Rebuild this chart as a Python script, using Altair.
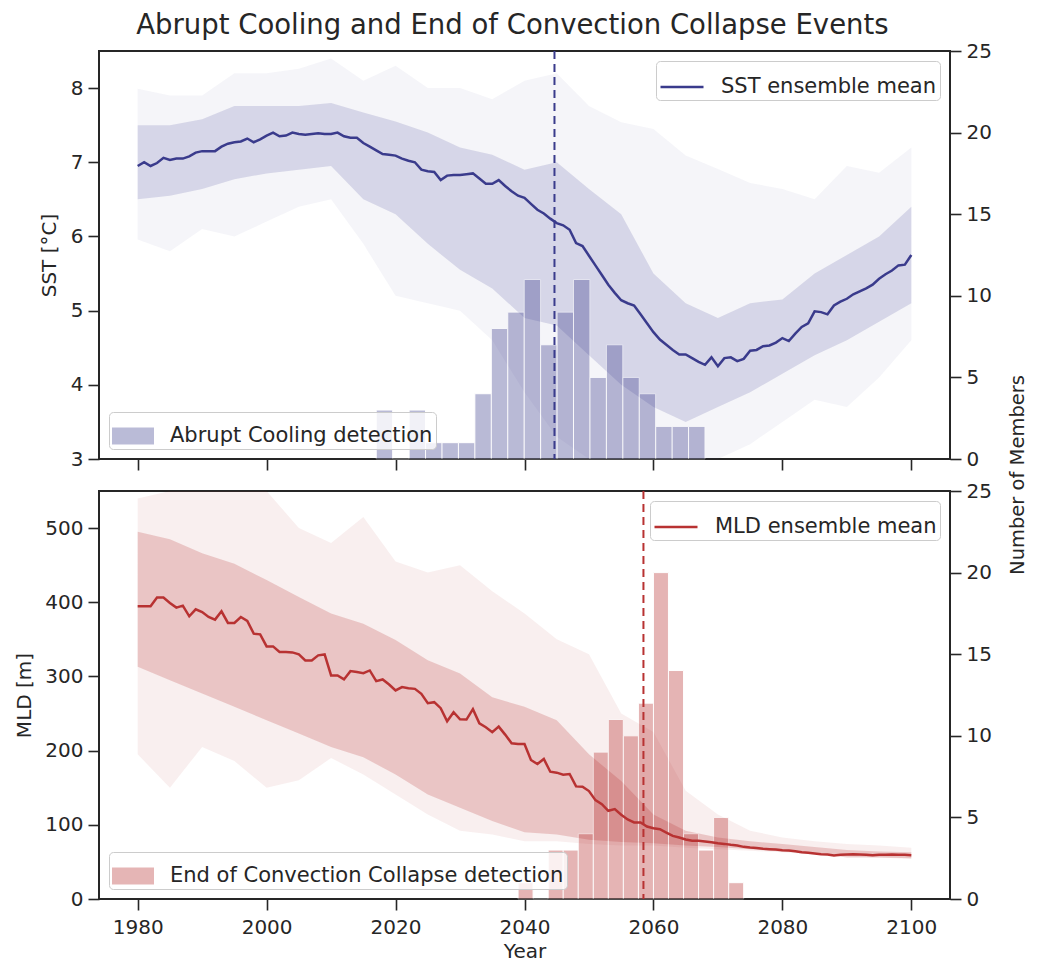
import altair as alt
import pandas as pd

# ---------------- data ----------------
years = list(range(1980, 2101))

sst_mean = [
    6.95, 7.00, 6.95, 6.99, 7.06, 7.03, 7.05, 7.05, 7.08, 7.13,
    7.15, 7.15, 7.15, 7.21, 7.25, 7.27, 7.28, 7.32, 7.27, 7.31,
    7.36, 7.40, 7.35, 7.36, 7.40, 7.38, 7.37, 7.38, 7.39, 7.38,
    7.38, 7.40, 7.35, 7.33, 7.33, 7.26, 7.21, 7.16, 7.11, 7.10,
    7.09, 7.05, 7.02, 7.00, 6.90, 6.88, 6.87, 6.76, 6.82, 6.83,
    6.83, 6.84, 6.85, 6.78, 6.71, 6.71, 6.76, 6.68, 6.61, 6.55,
    6.52, 6.44, 6.36, 6.31, 6.24, 6.18, 6.15, 6.09, 5.91, 5.87,
    5.74, 5.61, 5.48, 5.35, 5.24, 5.14, 5.10, 5.07, 4.95, 4.83,
    4.71, 4.61, 4.54, 4.47, 4.41, 4.41, 4.36, 4.31, 4.27, 4.37,
    4.25, 4.36, 4.37, 4.32, 4.35, 4.46, 4.47, 4.52, 4.53, 4.57,
    4.63, 4.59, 4.69, 4.78, 4.83, 4.99, 4.98, 4.95, 5.07, 5.12,
    5.16, 5.22, 5.26, 5.30, 5.35, 5.43, 5.49, 5.54, 5.61, 5.62,
    5.75,
]

mld_mean = [
    394.6, 394.6, 394.6, 406.3, 406.3, 399.1, 392.8, 395.5, 381.1, 390.5,
    386.9, 380.2, 376.6, 387.8, 372.1, 372.1, 380.2, 374.8, 357.7, 356.8,
    340.5, 340.5, 332.9, 332.9, 332.4, 329.7, 321.6, 321.6, 328.4, 329.7,
    301.4, 301.4, 296.0, 307.2, 305.9, 304.5, 308.1, 293.7, 296.0, 289.2,
    281.1, 285.6, 284.2, 283.3, 276.6, 264.0, 265.3, 257.2, 239.6, 251.8,
    242.3, 241.9, 255.9, 236.9, 231.5, 224.8, 232.4, 221.6, 209.9, 209.0,
    209.0, 187.4, 182.0, 188.7, 171.6, 170.3, 167.6, 168.5, 151.8, 151.4,
    145.5, 133.3, 127.9, 118.9, 121.2, 113.5, 107.2, 103.2, 103.2, 97.7,
    95.5, 94.1, 89.6, 85.1, 82.9, 80.2, 78.4, 78.4, 77.5, 76.6,
    75.2, 74.3, 73.0, 72.1, 70.3, 69.4, 68.9, 67.6, 67.1, 66.7,
    65.8, 65.3, 64.4, 63.1, 62.2, 61.3, 60.4, 59.9, 58.6, 59.5,
    59.9, 60.4, 59.9, 59.5, 59.0, 59.5, 59.5, 59.9, 59.5, 59.5,
    59.0,
]

# ensemble-member spread (outer = faint envelope, inner = dense core), every 5 years
band_years = [1980, 1985, 1990, 1995, 2000, 2005, 2010, 2015, 2020, 2025, 2030, 2035, 2040,
              2045, 2050, 2055, 2060, 2065, 2070, 2075, 2080, 2085, 2090, 2095, 2100]
sst_outer_hi = [7.99, 7.90, 7.90, 8.20, 8.20, 8.26, 8.40, 8.10, 8.30, 8.00, 8.00, 7.85, 8.10,
                8.20, 7.76, 7.54, 7.45, 7.09, 6.91, 6.72, 6.64, 6.50, 6.95, 6.86, 7.20]
sst_outer_lo = [5.96, 5.80, 6.10, 6.00, 6.20, 6.40, 6.50, 5.90, 5.20, 5.10, 5.00, 4.60, 3.90,
                3.30, 3.00, 3.00, 3.00, 3.00, 3.00, 3.20, 3.50, 3.80, 3.70, 4.10, 4.60]
sst_inner_hi = [7.50, 7.50, 7.58, 7.76, 7.76, 7.76, 7.80, 7.67, 7.55, 7.40, 7.20, 7.10, 6.90,
                7.00, 6.64, 6.30, 5.50, 5.10, 4.90, 5.10, 5.15, 5.50, 5.75, 6.00, 6.40]
sst_inner_lo = [6.50, 6.55, 6.64, 6.77, 6.85, 6.90, 6.95, 6.50, 6.30, 5.90, 5.55, 5.30, 4.90,
                4.80, 4.40, 4.00, 3.70, 3.50, 3.70, 3.90, 4.15, 4.40, 4.60, 4.85, 5.10]

mld_outer_hi = [540, 550, 550, 550, 550, 500, 480, 515, 455, 440, 450, 415, 385,
                350, 330, 250, 225, 146, 114, 92, 83, 78, 74, 72, 69]
mld_outer_lo = [195, 150, 205, 186, 150, 160, 190, 168, 141, 114, 92, 87, 78,
                78, 74, 72, 72, 69, 67, 65, 63, 60, 58, 56, 54]
mld_inner_hi = [495, 485, 466, 452, 430, 407, 385, 371, 349, 322, 304, 272, 259,
                241, 195, 159, 114, 92, 83, 78, 74, 70, 66, 64, 63]
mld_inner_lo = [313, 295, 277, 259, 241, 223, 205, 191, 168, 141, 123, 105, 90,
                87, 80, 77, 75, 72, 70, 67, 64, 62, 56, 56, 55]

# detection histograms (number of members per bin)
sst_bin_edges = [2017.0, 2019.55, 2022.1, 2024.65, 2027.2, 2029.75, 2032.3, 2034.85, 2037.4,
                 2039.95, 2042.5, 2045.05, 2047.6, 2050.15, 2052.7, 2055.25, 2057.8, 2060.35,
                 2062.9, 2065.45, 2068.0]
sst_counts = [3, 0, 3, 1, 1, 1, 4, 8, 9, 11, 7, 9, 11, 5, 7, 5, 4, 2, 2, 2]

mld_bin_edges = [2039.0, 2041.33, 2043.67, 2046.0, 2048.33, 2050.67, 2053.0, 2055.33, 2057.67,
                 2060.0, 2062.33, 2064.67, 2067.0, 2069.33, 2071.67, 2074.0]
mld_counts = [1, 0, 3, 3, 4, 9, 11, 10, 12, 20, 14, 4, 3, 5, 1]

sst_event_mean = [2044.65]
mld_event_mean = [2058.45]

x_ticks = [1980, 2000, 2020, 2040, 2060, 2080, 2100]
count_ticks = [0, 5, 10, 15, 20, 25]

# ---------------- styling ----------------
NAVY = "#3a3b8c"
RED = "#b83232"
INK = "#262626"
FONT = "DejaVu Sans"
W, H = 851, 408
XDOM = [1974, 2106]


def xenc(field, bottom):
    if bottom:
        ax = alt.Axis(values=x_ticks, format="d", title="Year", labelPadding=7, titlePadding=4)
    else:
        ax = alt.Axis(values=x_ticks, labels=False, title=None)
    return alt.X(f"{field}:Q", scale=alt.Scale(domain=XDOM, nice=False, zero=False), axis=ax)


def panel(mean_vals, olo, ohi, ilo, ihi, edges, counts, event, color,
          ydom, yticks, ytitle, mean_label, hist_label, op_outer, op_inner, op_bar,
          bottom, extra=None):
    band_df = pd.DataFrame({"year": band_years, "olo": olo, "ohi": ohi, "ilo": ilo, "ihi": ihi})
    mean_df = pd.DataFrame({"year": years, "v": mean_vals, "lab": [mean_label] * len(years)})
    hist_df = pd.DataFrame({"start": edges[:-1], "end": edges[1:], "n": counts,
                            "lab": [hist_label] * len(counts)})
    ev_df = pd.DataFrame({"year": event})

    ysc = alt.Scale(domain=ydom, nice=False, zero=False)
    yax = alt.Axis(values=yticks, title=ytitle, orient="left")

    outer = alt.Chart(band_df).mark_area(color=color, opacity=op_outer, clip=True).encode(
        x=xenc("year", bottom), y=alt.Y("olo:Q", scale=ysc, axis=yax), y2="ohi:Q")
    inner = alt.Chart(band_df).mark_area(color=color, opacity=op_inner, clip=True).encode(
        x=xenc("year", bottom), y=alt.Y("ilo:Q", scale=ysc, axis=yax), y2="ihi:Q")
    bands = alt.layer(outer, inner)

    bars = alt.Chart(hist_df).mark_rect(opacity=op_bar, stroke="white", strokeWidth=1).encode(
        x=xenc("start", bottom), x2="end:Q",
        y=alt.Y("n:Q", scale=alt.Scale(domain=[0, 25], nice=False),
                axis=alt.Axis(values=count_ticks, orient="right", title=None)),
        y2=alt.datum(0),
        color=alt.Color("lab:N", scale=alt.Scale(domain=[hist_label], range=[color]),
                        legend=alt.Legend(title=None, orient="bottom-left",
                                          symbolType="M-1,-0.4L1,-0.4L1,0.4L-1,0.4Z",
                                          symbolSize=1764, symbolOpacity=op_bar,
                                          symbolStrokeWidth=0)))

    line = alt.Chart(mean_df).mark_line(strokeWidth=2.5, clip=True).encode(
        x=xenc("year", bottom),
        y=alt.Y("v:Q", scale=ysc, axis=None),
        color=alt.Color("lab:N", scale=alt.Scale(domain=[mean_label], range=[color]),
                        legend=alt.Legend(title=None, orient="top-right", symbolType="stroke",
                                          symbolSize=1849, symbolStrokeWidth=2.5)))
    rule = alt.Chart(ev_df).mark_rule(color=color, strokeDash=[8, 5], strokeWidth=2).encode(
        x=xenc("year", bottom))
    lines = alt.layer(line, rule)

    layers = [bands, bars, lines]
    if extra is not None:
        layers.append(extra)
    return alt.layer(*layers).resolve_scale(y="independent", color="independent").properties(
        width=W, height=H)


right_title = alt.Chart(pd.DataFrame({"t": ["Number of Members"]})).mark_text(
    angle=270, font=FONT, fontSize=19.5, color=INK, align="center", baseline="middle").encode(
    x=alt.value(919), y=alt.value(424), text="t:N")

top = panel(sst_mean, sst_outer_lo, sst_outer_hi, sst_inner_lo, sst_inner_hi,
            sst_bin_edges, sst_counts, sst_event_mean, NAVY,
            [3, 8.5], [3, 4, 5, 6, 7, 8], "SST [°C]",
            "SST ensemble mean", "Abrupt Cooling detection",
            0.05, 0.16, 0.35, False, extra=right_title)

bottom = panel(mld_mean, mld_outer_lo, mld_outer_hi, mld_inner_lo, mld_inner_hi,
               mld_bin_edges, mld_counts, mld_event_mean, RED,
               [0, 550], [0, 100, 200, 300, 400, 500], "MLD [m]",
               "MLD ensemble mean", "End of Convection Collapse detection",
               0.08, 0.22, 0.36, True)

chart = alt.vconcat(top, bottom, spacing=32, bounds="flush").resolve_scale(
    x="independent", y="independent", color="independent"
).properties(
    title=alt.TitleParams("Abrupt Cooling and End of Convection Collapse Events",
                          font=FONT, fontSize=27.5, fontWeight="normal", color=INK,
                          anchor="middle", offset=1, dx=-8.5),
    padding={"left": 5, "right": 0, "top": 3, "bottom": 0},
).configure_view(
    stroke=INK, strokeWidth=2
).configure_axis(
    domain=False, grid=False, tickColor=INK, tickWidth=1.6, tickSize=11,
    labelFont=FONT, labelFontSize=20, labelColor=INK, labelPadding=5, labelFlush=False,
    titleFont=FONT, titleFontSize=20, titleFontWeight="normal", titleColor=INK, titlePadding=10.5,
).configure_legend(
    labelFont=FONT, labelFontSize=21, labelColor=INK, labelLimit=700, labelOffset=16,
    fillColor="rgba(255,255,255,0.8)", strokeColor="#cccccc", cornerRadius=4,
    padding=3, offset=10,
)

chart.save("out.html", embed_options={"renderer": "svg", "actions": False})
